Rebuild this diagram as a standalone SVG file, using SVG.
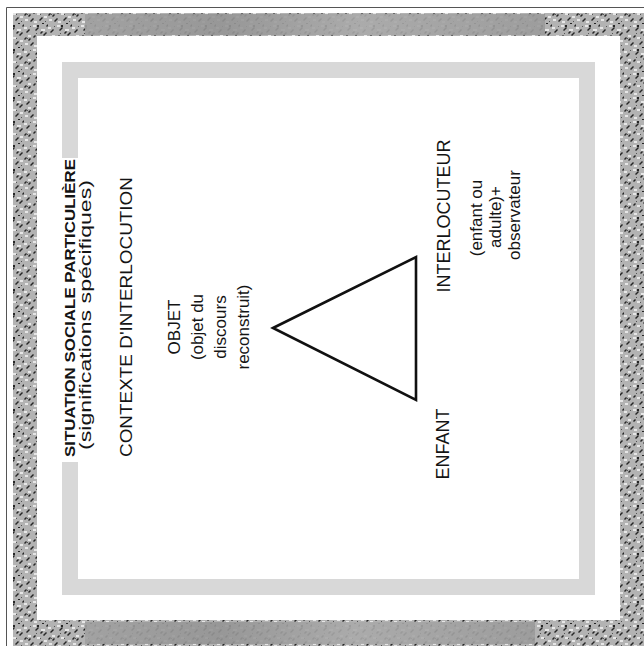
<svg xmlns="http://www.w3.org/2000/svg" width="644" height="646" viewBox="0 0 644 646">
<defs>
<pattern id="speck" width="24" height="24" patternUnits="userSpaceOnUse">
<rect width="24" height="24" fill="#b3b3b3"/>
<path d="M0 3h3v2h-3zM9 1h3v2h-3zM17 5h4v2h-4zM4 11h3v2h-3zM13 13h3v2h-3zM20 16h3v2h-3zM1 19h3v2h-3zM10 21h3v2h-3z" fill="#e6e6e6"/>
<path d="M2 8l3-3 1 1-3 3zM11 6l3-3 1 1-3 3zM19 11l3-3 1 1-3 3zM6 21l3-3 1 1-3 3zM15 20l3-3 1 1-3 3zM9 13l2-2 1 1-2 2zM22 2l2-2v2l-1 1zM0 15l2-2 1 1-2 2zM13 1h2v2h-2zM18 23h2v1h-2zM16 9l2-2 1 1-2 2zM4 16l2-2 1 1-2 2z" fill="#262626"/>
<path d="M6 2h1v1h-1zM16 14h1v1h-1zM3 14h1v1h-1zM21 21h1v1h-1zM12 9h1v1h-1z" fill="#555"/>
</pattern>
<linearGradient id="blurH" x1="0" y1="0" x2="1" y2="0">
<stop offset="0" stop-color="#a0a0a0"/><stop offset="0.3" stop-color="#949494"/><stop offset="0.6" stop-color="#aaaaaa"/><stop offset="1" stop-color="#9a9a9a"/>
</linearGradient>
<style>
.t{font-family:"Liberation Sans",Arial,sans-serif;fill:#141414;text-anchor:middle}
.band{fill:url(#speck)}
.inner{fill:none;stroke:#d8d8d8;stroke-width:16}
</style>
</defs>
<rect width="644" height="646" fill="#ffffff"/>
<g id="frame">
<path d="M6.5 646V7.5H644" fill="none" stroke="#555" stroke-width="1"/>
<rect class="band" x="13" y="13" width="631" height="23"/>
<rect class="band" x="13" y="13" width="24" height="633"/>
<rect class="band" x="620" y="13" width="24" height="633"/>
<rect class="band" x="13" y="620" width="631" height="26"/>
<rect x="85" y="14" width="460" height="21" fill="url(#blurH)" opacity="0.9"/>
<rect x="85" y="622" width="450" height="22" fill="url(#blurH)" opacity="0.9"/>
<rect class="inner" x="70" y="70" width="517" height="517"/>
<rect x="60" y="158" width="22" height="304" fill="#ffffff"/>
</g>
<g id="situation">
<text class="t" transform="translate(75,308) rotate(-90)" font-size="15.5" font-weight="bold" textLength="298" lengthAdjust="spacingAndGlyphs">SITUATION SOCIALE PARTICULIÈRE</text>
<text class="t" transform="translate(91,315) rotate(-90)" font-size="16" textLength="270" lengthAdjust="spacingAndGlyphs">(significations spécifiques)</text>
</g>
<g id="contexte">
<text class="t" transform="translate(132,317) rotate(-90)" font-size="17" textLength="280" lengthAdjust="spacingAndGlyphs">CONTEXTE D'INTERLOCUTION</text>
</g>
<g id="objet">
<text class="t" transform="translate(180,327) rotate(-90)" font-size="17">OBJET</text>
<text class="t" transform="translate(203,327) rotate(-90)" font-size="17">(objet du</text>
<text class="t" transform="translate(226,327) rotate(-90)" font-size="17">discours</text>
<text class="t" transform="translate(249,327) rotate(-90)" font-size="17">reconstruit)</text>
</g>
<g id="enfant">
<text class="t" transform="translate(449,444) rotate(-90)" font-size="18">ENFANT</text>
</g>
<g id="interlocuteur">
<text class="t" transform="translate(450,216) rotate(-90)" font-size="18">INTERLOCUTEUR</text>
<text class="t" transform="translate(482,218) rotate(-90)" font-size="17">(enfant ou</text>
<text class="t" transform="translate(501,217) rotate(-90)" font-size="17">adulte)+</text>
<text class="t" transform="translate(520,215) rotate(-90)" font-size="17">observateur</text>
</g>
<g id="connectors">
<polygon points="273,328 416,257 416,400" fill="none" stroke="#111" stroke-width="2.6" stroke-linejoin="miter"/>
</g>
</svg>
